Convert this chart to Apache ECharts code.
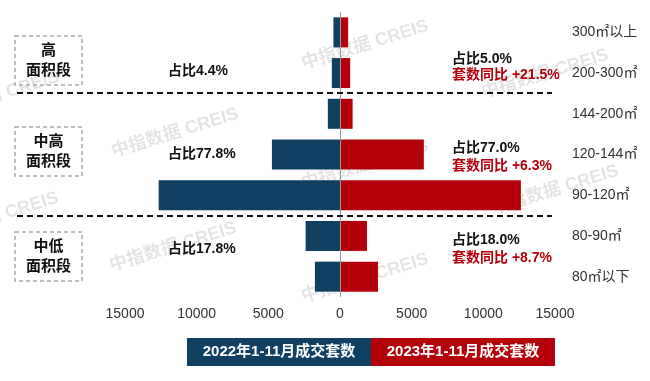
<!DOCTYPE html>
<html><head><meta charset="utf-8">
<script src="https://cdn.jsdelivr.net/npm/echarts@6/dist/echarts.min.js"></script>
<style>html,body{margin:0;padding:0;background:#fff}#c{width:650px;height:381px}</style>
</head><body><div id="c"></div>
<script>
const categories = ['300㎡以上','200-300㎡','144-200㎡','120-144㎡','90-120㎡','80-90㎡','80㎡以下'];
const sales2022 = [460, 570, 850, 4750, 12650, 2400, 1750];
const sales2023 = [570, 710, 880, 5850, 12620, 1880, 2650];
const seriesNames = ['2022年1-11月成交套数', '2023年1-11月成交套数'];
const groupNames = ['高\n面积段', '中高\n面积段', '中低\n面积段'];
const share2022 = ['占比4.4%', '占比77.8%', '占比17.8%'];
const share2023 = ['占比5.0%', '占比77.0%', '占比18.0%'];
const yoy2023 = ['套数同比 +21.5%', '套数同比 +6.3%', '套数同比 +8.7%'];
const watermark = '中指数据 CREIS';

const BLUE = '#0f3f61', RED = '#b3000b';
const FONT = "'Liberation Sans','Noto Sans CJK SC',sans-serif";

const chart = echarts.init(document.getElementById('c'), null, {renderer: 'canvas'});

const option = {
  animation: false,
  backgroundColor: '#fff',
  grid: {left: 125, right: 95, top: 12, bottom: 84, containLabel: false},
  xAxis: {
    type: 'value', min: -15000, max: 15000, interval: 5000,
    axisLine: {show: false}, axisTick: {show: false}, splitLine: {show: false},
    axisLabel: {formatter: v => String(Math.abs(v)), color: '#333', fontSize: 14, fontFamily: FONT, margin: 10}
  },
  yAxis: {
    type: 'category', data: categories, inverse: true, position: 'right',
    axisLine: {show: false}, axisTick: {show: false}, splitLine: {show: false},
    axisLabel: {color: '#333', fontSize: 14, fontFamily: FONT, margin: 17}
  },
  series: [
    {name: seriesNames[0], type: 'bar', stack: 'total', barWidth: 30,
     itemStyle: {color: BLUE}, data: sales2022.map(v => -v)},
    {name: seriesNames[1], type: 'bar', stack: 'total', barWidth: 30,
     itemStyle: {color: RED}, data: sales2023,
     markLine: {silent: true, symbol: 'none', label: {show: false},
       lineStyle: {color: '#999', width: 1, type: 'solid'}, data: [{xAxis: 0}]}}
  ]
};
chart.setOption(option);

const yc = i => chart.convertToPixel({yAxisIndex: 0}, categories[i]);
const sepY = [(yc(1) + yc(2)) / 2, (yc(4) + yc(5)) / 2];

const g = [];
// watermarks
const wm = [[175,133],[-4,96],[-5,217],[365,45],[545,74],[365,165],[555,190],[173,247],[365,278]];
wm.forEach(p => g.push({type: 'text', x: p[0], y: p[1], rotation: 0.3, z: -10, silent: true,
  style: {text: watermark, fill: 'rgba(0,0,0,0.11)', font: 'bold 18px ' + FONT, align: 'center', verticalAlign: 'middle'}}));
// dashed separators
sepY.forEach(y => g.push({type: 'line', z: 50, shape: {x1: 17, y1: Math.round(y), x2: 552, y2: Math.round(y)},
  style: {stroke: '#111', lineWidth: 2, lineDash: [6, 4]}}));
// group boxes
const boxY = [36, 127, 232];
boxY.forEach((y, i) => {
  g.push({type: 'rect', z: 50, shape: {x: 15, y: y, width: 67, height: 49},
    style: {fill: 'none', stroke: '#aaa', lineWidth: 1.5, lineDash: [4, 3]}});
  g.push({type: 'text', z: 50, x: 48.5, y: y + 24.5,
    style: {text: groupNames[i], fill: '#111', font: 'bold 15px ' + FONT, align: 'center', verticalAlign: 'middle', lineHeight: 20}});
});
// left share labels
const leftY = [71, 154, 249];
leftY.forEach((y, i) => g.push({type: 'text', z: 50, x: 168, y: y,
  style: {text: share2022[i], fill: '#111', font: 'bold 14px ' + FONT, align: 'left', verticalAlign: 'middle'}}));
// right labels
const rightY = [[59, 75], [148, 166], [240, 258]];
rightY.forEach((p, i) => {
  g.push({type: 'text', z: 50, x: 452, y: p[0],
    style: {text: share2023[i], fill: '#111', font: 'bold 14px ' + FONT, align: 'left', verticalAlign: 'middle'}});
  g.push({type: 'text', z: 50, x: 452, y: p[1],
    style: {text: yoy2023[i], fill: RED, font: 'bold 14px ' + FONT, align: 'left', verticalAlign: 'middle'}});
});
// legend blocks
g.push({type: 'rect', z: 50, shape: {x: 187, y: 338, width: 184, height: 28}, style: {fill: BLUE}});
g.push({type: 'rect', z: 50, shape: {x: 371, y: 338, width: 184, height: 28}, style: {fill: RED}});
g.push({type: 'text', z: 51, x: 279, y: 352,
  style: {text: seriesNames[0], fill: '#fff', font: 'bold 15px ' + FONT, align: 'center', verticalAlign: 'middle'}});
g.push({type: 'text', z: 51, x: 463, y: 352,
  style: {text: seriesNames[1], fill: '#fff', font: 'bold 15px ' + FONT, align: 'center', verticalAlign: 'middle'}});

chart.setOption({graphic: g});
</script></body></html>
